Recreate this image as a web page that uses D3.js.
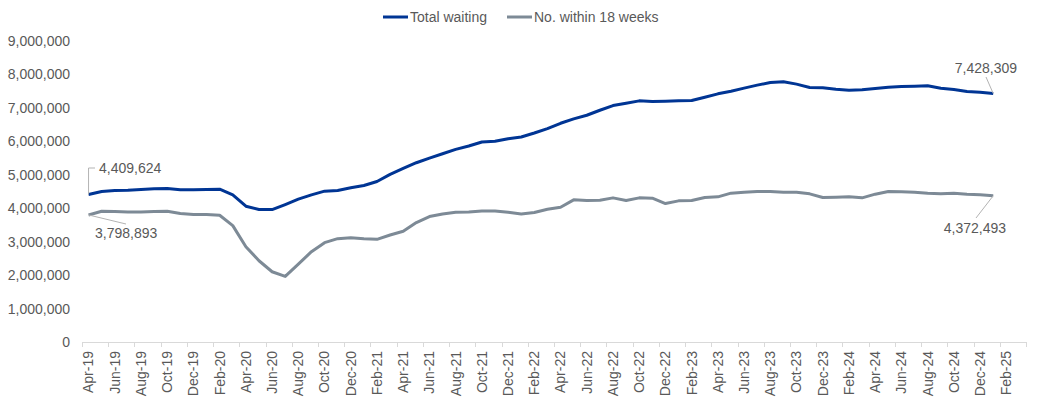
<!DOCTYPE html>
<html>
<head>
<meta charset="utf-8">
<script src="https://cdn.jsdelivr.net/npm/d3@7"></script>
<style>
  body { margin: 0; background: #fff; }
  text { font-family: "Liberation Sans", Arial, sans-serif; }
</style>
</head>
<body>
<div id="chart"></div>
<script>
// months on the category axis (Apr-19 .. Mar-25)
var monthNames = ["Jan","Feb","Mar","Apr","May","Jun","Jul","Aug","Sep","Oct","Nov","Dec"];
var months = [];
for (var yr = 2019; yr <= 2025; yr++) {
  for (var m = 0; m < 12; m++) {
    if (yr == 2019 && m < 3) continue;
    if (yr == 2025 && m > 2) continue;
    months.push(monthNames[m] + "-" + String(yr).slice(2));
  }
}

// Total waiting (Apr-19 .. Jan-25)
var totalWaiting = [
  4409624, 4500000, 4530000, 4540000, 4560000, 4580000, 4590000, 4550000, 4550000,
  4560000, 4570000, 4400000, 4060000, 3960000, 3960000, 4110000, 4270000, 4400000, 4510000, 4530000, 4610000,
  4680000, 4800000, 5010000, 5190000, 5360000, 5500000, 5630000, 5760000, 5860000, 5980000, 6000000, 6080000,
  6130000, 6250000, 6380000, 6540000, 6670000, 6780000, 6930000, 7070000, 7140000, 7210000, 7190000, 7200000,
  7210000, 7220000, 7320000, 7420000, 7500000, 7590000, 7680000, 7760000, 7780000, 7710000, 7610000, 7600000,
  7560000, 7530000, 7540000, 7580000, 7620000, 7640000, 7650000, 7660000, 7590000, 7550000, 7490000, 7470000,
  7428309
];

// No. within 18 weeks (Apr-19 .. Jan-25)
var within18 = [
  3798893, 3910000, 3900000, 3890000, 3890000, 3900000, 3910000, 3840000, 3810000,
  3810000, 3790000, 3480000, 2850000, 2430000, 2100000, 1960000, 2330000, 2700000, 2970000, 3090000, 3120000,
  3090000, 3070000, 3200000, 3310000, 3570000, 3750000, 3830000, 3880000, 3890000, 3920000, 3920000, 3880000,
  3830000, 3870000, 3970000, 4030000, 4250000, 4230000, 4240000, 4310000, 4230000, 4310000, 4300000, 4140000,
  4220000, 4230000, 4320000, 4340000, 4450000, 4480000, 4500000, 4500000, 4480000, 4480000, 4430000, 4320000,
  4330000, 4340000, 4310000, 4420000, 4500000, 4490000, 4480000, 4450000, 4430000, 4450000, 4420000, 4400000,
  4372493
];

var yTicks = [0, 1000000, 2000000, 3000000, 4000000, 5000000, 6000000, 7000000, 8000000, 9000000];
var seriesNames = ["Total waiting", "No. within 18 weeks"];

var svgWidth = 1039, svgHeight = 399;
var plotLeft = 82, plotRight = 1026, plotTop = 41, plotBottom = 342;
var textColor = "#595959";
var blue = "#003594", grey = "#7d8a96";

var svg = d3.select("#chart").append("svg")
  .attr("width", svgWidth)
  .attr("height", svgHeight);

var x = d3.scaleBand().domain(months).range([plotLeft, plotRight]);
var y = d3.scaleLinear().domain([0, 9000000]).range([plotBottom, plotTop]);
var cx = function(i) { return x(months[i]) + x.bandwidth() / 2; };

// y axis (labels only)
var fmt = d3.format(",");
svg.append("g")
  .attr("transform", "translate(" + plotLeft + ",0)")
  .call(d3.axisLeft(y).tickValues(yTicks).tickSize(0).tickPadding(12).tickFormat(fmt))
  .call(function(g) {
    g.select(".domain").remove();
    g.selectAll("text").attr("fill", textColor).style("font-size", "14px")
      .style("font-family", "Liberation Sans, Arial, sans-serif");
  });

// x axis
var labelMonths = months.filter(function(d, i) { return i % 2 == 0; });
var xAxis = svg.append("g")
  .attr("transform", "translate(0," + plotBottom + ")")
  .call(d3.axisBottom(x).tickValues(labelMonths).tickSize(0).tickPadding(0));
xAxis.select(".domain").attr("stroke", "#d9d9d9").attr("d", "M" + plotLeft + ",0.5H" + plotRight);
xAxis.selectAll(".tick text")
  .attr("fill", textColor)
  .style("font-size", "14px")
  .style("font-family", "Liberation Sans, Arial, sans-serif")
  .attr("transform", "rotate(-90)")
  .attr("text-anchor", "end")
  .attr("x", -9)
  .attr("y", 0)
  .attr("dy", "0.35em");

// tick marks on category boundaries, every 2 months
var tickPos = labelMonths.map(function(d) { return x(d); }).concat([plotRight]);
xAxis.selectAll(".bound")
  .data(tickPos)
  .enter().append("line")
  .attr("class", "bound")
  .attr("x1", function(d) { return Math.round(d) + 0.5; })
  .attr("x2", function(d) { return Math.round(d) + 0.5; })
  .attr("y1", 0)
  .attr("y2", 5)
  .attr("stroke", "#d9d9d9");

// lines
var line = d3.line()
  .x(function(d, i) { return cx(i); })
  .y(function(d) { return y(d); });

svg.append("path")
  .datum(within18)
  .attr("fill", "none")
  .attr("stroke", grey)
  .attr("stroke-width", 3)
  .attr("stroke-linejoin", "round")
  .attr("d", line);

svg.append("path")
  .datum(totalWaiting)
  .attr("fill", "none")
  .attr("stroke", blue)
  .attr("stroke-width", 3)
  .attr("stroke-linejoin", "round")
  .attr("d", line);

// data labels with leader lines
var last = totalWaiting.length - 1;
var labels = [
  { i: 0, v: totalWaiting[0], tx: 99, ty: 168, anchor: "start",
    path: function(px, py) { return "M" + px + "," + py + "V168H95"; } },
  { i: 0, v: within18[0], tx: 95, ty: 233, anchor: "start",
    path: function(px, py) { return "M" + px + "," + py + "L126,224"; } },
  { i: last, v: totalWaiting[last], tx: 1017, ty: 68, anchor: "end",
    path: function(px, py) { return "M" + px + "," + py + "L986,77"; } },
  { i: last, v: within18[last], tx: 1006, ty: 228, anchor: "end",
    path: function(px, py) { return "M" + px + "," + py + "L976,218"; } }
];

labels.forEach(function(l) {
  var px = cx(l.i), py = y(l.v);
  svg.append("path")
    .attr("d", l.path(px, py))
    .attr("fill", "none")
    .attr("stroke", "#b3b3b3")
    .attr("stroke-width", 1);
  svg.append("text")
    .attr("x", l.tx)
    .attr("y", l.ty)
    .attr("dy", "0.35em")
    .attr("text-anchor", l.anchor)
    .attr("fill", textColor)
    .style("font-size", "14px")
    .text(fmt(l.v));
});

// legend
var legend = svg.append("g").attr("transform", "translate(383,17)");
var legendX = [0, 124];
var legendColors = [blue, grey];
seriesNames.forEach(function(name, i) {
  var g = legend.append("g").attr("transform", "translate(" + legendX[i] + ",0)");
  g.append("line")
    .attr("x1", 0).attr("x2", 25)
    .attr("y1", 0).attr("y2", 0)
    .attr("stroke", legendColors[i])
    .attr("stroke-width", 3);
  g.append("text")
    .attr("x", 27)
    .attr("y", 0)
    .attr("dy", "0.35em")
    .attr("fill", textColor)
    .style("font-size", "14px")
    .text(name);
});
</script>
</body>
</html>
